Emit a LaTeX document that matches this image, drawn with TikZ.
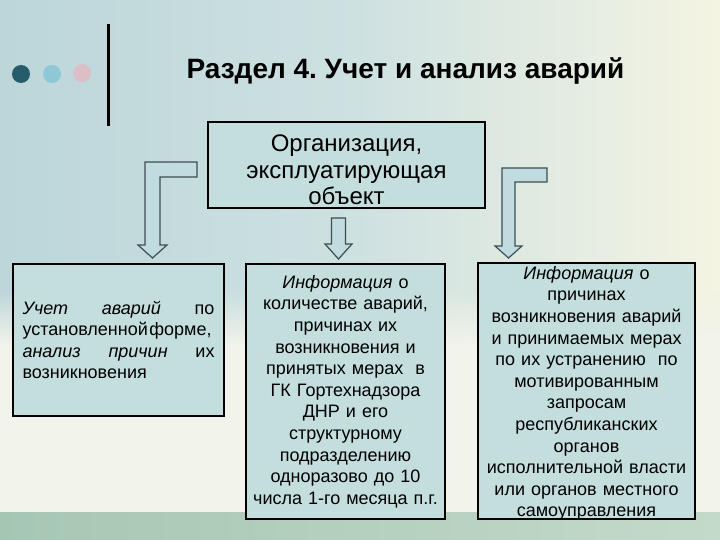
\documentclass[tikz,border=0pt]{standalone}
\usepackage{fontspec}
\setmainfont{Liberation Sans}
\usetikzlibrary{fadings}
\frenchspacing

\definecolor{bgteal}{RGB}{188,214,218}
\definecolor{bgmid}{RGB}{206,225,225}
\definecolor{bgcream}{RGB}{244,244,226}
\definecolor{bglow}{RGB}{242,243,235}
\definecolor{bandl}{RGB}{166,198,180}
\definecolor{bandr}{RGB}{196,218,200}
\definecolor{boxfill}{RGB}{196,222,222}
\definecolor{arrowfill}{RGB}{192,220,224}
\definecolor{arrowline}{RGB}{62,78,82}
\definecolor{dotA}{RGB}{38,92,108}
\definecolor{dotB}{RGB}{142,200,214}
\definecolor{dotC}{RGB}{220,190,198}

\begin{document}
\begin{tikzpicture}[x=1pt, y=-1pt,
  box/.style={draw=black, line width=2pt, fill=boxfill, inner sep=0pt},
  bodytext/.style={font=\fontsize{18}{21.6}\selectfont},
  blockarrow/.style={fill=arrowfill, draw=arrowline, line width=1.2pt, line join=miter},
  dot/.style={circle, inner sep=0pt, minimum size=18pt}]
  \useasboundingbox (0,0) rectangle (720,540);
  % background
  \fill[bglow] (0,0) rectangle (720,540);
  \shade[left color=bgteal, right color=bgcream, middle color=bgmid] (0,0) rectangle (720,290);
  \shade[left color=bgteal, right color=bgcream, middle color=bgmid, path fading=south] (0,290) rectangle (720,345);
  \shade[left color=bandl, right color=bandr] (0,512) rectangle (720,540);

  % header
  \node[dot, fill=dotA] (d1) at (21,74) {};
  \node[dot, fill=dotB] (d2) at (52,74) {};
  \node[dot, fill=dotC] (d3) at (82,73) {};
  \draw[line width=3pt] (108,24) -- (108,126);
  \node[anchor=base, font=\fontsize{28}{30}\selectfont\bfseries] (title) at (405.5,79)
    {Раздел 4. Учет и анализ аварий};

  % boxes
  \node[box, minimum width=277pt, minimum height=86pt] (org) at (346.5,165) {};
  \node[align=center, inner sep=0pt, font=\fontsize{24}{26.5}\selectfont]
    (orgtext) at ([yshift=-5pt]org.center) {Организация,\\эксплуатирующая\\объект};
  \node[box, bodytext, minimum width=211pt, minimum height=152pt,
        text width=192pt, align=left] (uchet) at (118.5,340)
    {\textit{Учет}\hfill\textit{аварий}\hfill по\\
     \mbox{установленной\hspace{1.5pt}форме,}\\
     \textit{анализ}\hfill\textit{причин}\hfill их\\
     возникновения};
  \node[box, bodytext, minimum width=199pt, minimum height=255pt,
        text width=195pt, align=center] (kolvo) at (345.5,391.5)
    {\textit{Информация} о\\количестве аварий,\\причинах их\\возникновения и\\
     принятых мерах~ в\\ГК Гортехнадзора\\ДНР и его\\структурному\\
     подразделению\\одноразово до 10\\числа 1-го месяца п.г.};
  \node[box, minimum width=217pt, minimum height=256pt] (prich) at (586.5,391) {};
  \node[bodytext, text width=213pt, align=center, inner sep=0pt]
    (prichtext) at ([yshift=-2.5pt]prich.center)
    {\textit{Информация} о\\причинах\\возникновения аварий\\и принимаемых мерах\\
     по их устранению~ по\\мотивированным\\запросам\\республиканских\\органов\\
     исполнительной власти\\или органов местного\\самоуправления};

  % arrows
  \draw[blockarrow] (145,162) -- (197,162) -- (197,177) -- (160,177) -- (160,245)
    -- (167,245) -- (152.5,258) -- (138,245) -- (145,245) -- cycle;
  \draw[blockarrow] (331.5,218) -- (345.5,218) -- (345.5,244) -- (352,244)
    -- (338.5,259) -- (325,244) -- (331.5,244) -- cycle;
  \draw[blockarrow] (502,168) -- (547,168) -- (547,182) -- (515,182) -- (515,246)
    -- (522,246) -- (508.5,258) -- (495,246) -- (502,246) -- cycle;
\end{tikzpicture}
\end{document}
